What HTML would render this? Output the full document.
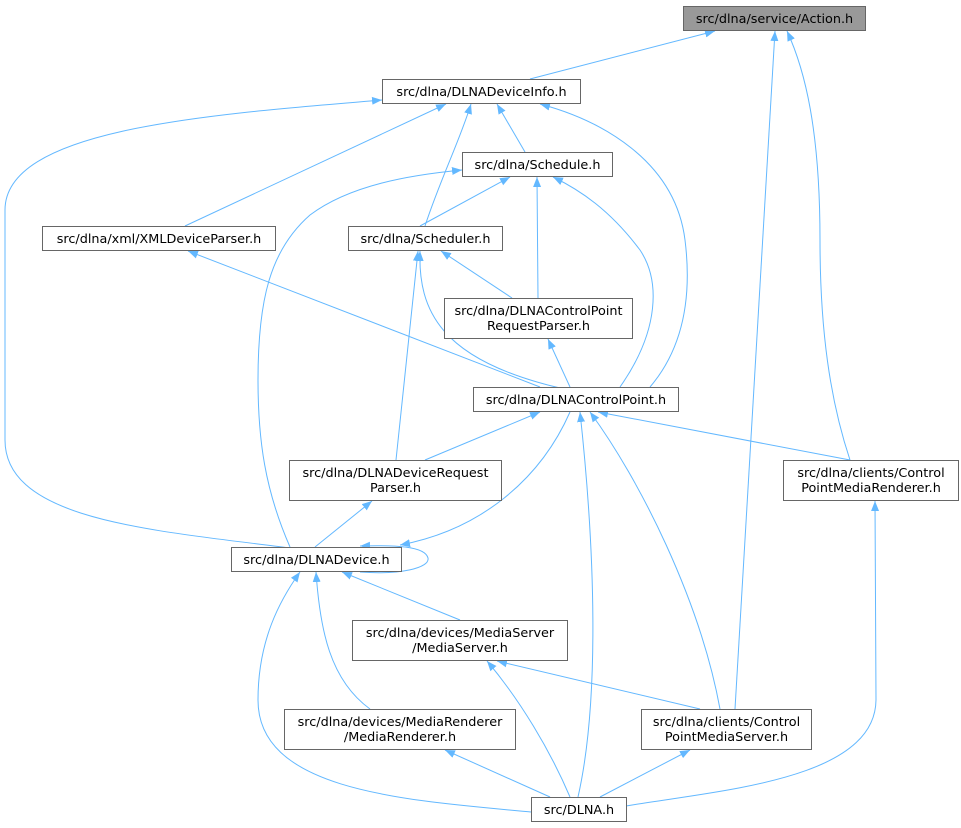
<!DOCTYPE html>
<html><head><meta charset="utf-8"><style>
html,body{margin:0;padding:0;background:#fff;}
svg{display:block;}
text{font-family:"DejaVu Sans","Liberation Sans",sans-serif;font-size:12.8px;fill:#000;}
.b{fill:#fff;stroke:#666;stroke-width:1;}
.e{fill:none;stroke:#63b8ff;stroke-width:1;}
</style></head><body>
<svg width="961" height="828" viewBox="0 0 961 828" xmlns="http://www.w3.org/2000/svg">
<defs><marker id="a" viewBox="0 0 10 10" refX="10" refY="5" markerWidth="10" markerHeight="10" markerUnits="userSpaceOnUse" orient="auto"><path d="M0,1 L10,5 L0,9 z" fill="#63b8ff"/></marker></defs>
<g class="e" marker-end="url(#a)">
<path d="M530,79 L715,31"/>
<path d="M735,709 L775,31"/>
<path d="M850,460 C830,400 820,330 820,240 C820,130 805,70 787,31"/>
<path d="M525,152 L497,104"/>
<path d="M185,226 L446,104"/>
<path d="M425,226 C440,180 460,140 471,104"/>
<path d="M650,387 C690,340 690,280 685,240 C675,160 600,120 540,104"/>
<path d="M290,548 C150,530 5,520 5,440 L5,210 C5,130 200,115 382,100"/>
<path d="M420,226 L510,177"/>
<path d="M538,298 L537,177"/>
<path d="M620,387 C660,330 660,280 640,250 C610,210 580,190 553,177"/>
<path d="M290,547 C265,490 258,440 258,380 C258,300 270,250 310,215 C350,185 410,175 462,170"/>
<path d="M540,387 L188,251"/>
<path d="M512,298 L441,251"/>
<path d="M560,388 C440,360 418,310 420,251"/>
<path d="M396,460 L418,251"/>
<path d="M570,387 L548,339"/>
<path d="M425,460 L540,412"/>
<path d="M850,460 L598,412"/>
<path d="M570,412 C540,480 480,530 400,545"/>
<path d="M578,797 C600,700 595,550 580,412"/>
<path d="M720,709 C700,600 640,480 590,412"/>
<path d="M315,547 L372,501"/>
<path d="M360,572 C400,575 430,568 428,558 C425,546 395,545 360,546"/>
<path d="M460,620 L342,572"/>
<path d="M370,709 C330,680 320,630 316,572"/>
<path d="M531,812 C400,800 258,790 258,700 C258,640 280,600 300,572"/>
<path d="M700,709 L497,661"/>
<path d="M570,797 C550,750 520,700 487,661"/>
<path d="M550,797 L445,750"/>
<path d="M600,797 L690,750"/>
<path d="M626,806 C720,790 875,780 876,700 L875,501"/>
</g>
<rect x="683.5" y="6.5" width="182" height="24" fill="#999" stroke="#666"/>
<text x="774.5" y="23" text-anchor="middle">src/dlna/service/Action.h</text>
<rect class="b" x="382.5" y="79.5" width="198" height="24"/>
<text x="481.5" y="96" text-anchor="middle">src/dlna/DLNADeviceInfo.h</text>
<rect class="b" x="462.5" y="152.5" width="150" height="24"/>
<text x="537.5" y="169" text-anchor="middle">src/dlna/Schedule.h</text>
<rect class="b" x="42.5" y="226.5" width="233" height="24"/>
<text x="159" y="243" text-anchor="middle">src/dlna/xml/XMLDeviceParser.h</text>
<rect class="b" x="348.5" y="226.5" width="154" height="24"/>
<text x="425.5" y="243" text-anchor="middle">src/dlna/Scheduler.h</text>
<rect class="b" x="444.5" y="298.5" width="188" height="40"/>
<text x="538.5" y="315" text-anchor="middle">src/dlna/DLNAControlPoint</text>
<text x="538.5" y="330" text-anchor="middle">RequestParser.h</text>
<rect class="b" x="473.5" y="387.5" width="205" height="24"/>
<text x="576" y="404" text-anchor="middle">src/dlna/DLNAControlPoint.h</text>
<rect class="b" x="289.5" y="460.5" width="212" height="40"/>
<text x="395.5" y="477" text-anchor="middle">src/dlna/DLNADeviceRequest</text>
<text x="395.5" y="492" text-anchor="middle">Parser.h</text>
<rect class="b" x="783.5" y="460.5" width="175" height="40"/>
<text x="871" y="477" text-anchor="middle">src/dlna/clients/Control</text>
<text x="871" y="492" text-anchor="middle">PointMediaRenderer.h</text>
<rect class="b" x="231.5" y="547.5" width="170" height="24"/>
<text x="316.5" y="564" text-anchor="middle">src/dlna/DLNADevice.h</text>
<rect class="b" x="352.5" y="620.5" width="215" height="40"/>
<text x="460" y="637" text-anchor="middle">src/dlna/devices/MediaServer</text>
<text x="460" y="652" text-anchor="middle">/MediaServer.h</text>
<rect class="b" x="284.5" y="709.5" width="231" height="40"/>
<text x="400" y="726" text-anchor="middle">src/dlna/devices/MediaRenderer</text>
<text x="400" y="741" text-anchor="middle">/MediaRenderer.h</text>
<rect class="b" x="641.5" y="709.5" width="170" height="40"/>
<text x="726.5" y="726" text-anchor="middle">src/dlna/clients/Control</text>
<text x="726.5" y="741" text-anchor="middle">PointMediaServer.h</text>
<rect class="b" x="531.5" y="797.5" width="95" height="24"/>
<text x="579" y="814" text-anchor="middle">src/DLNA.h</text>
</svg>
</body></html>
